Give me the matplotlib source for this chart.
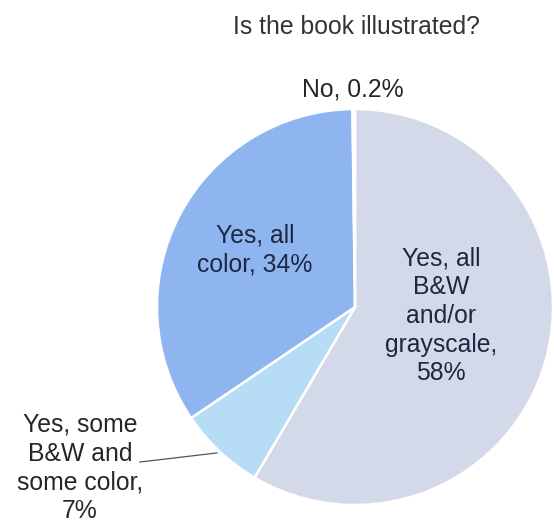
import matplotlib
matplotlib.use("Agg")
import matplotlib.pyplot as plt
import numpy as np

plt.rcParams['font.family'] = ['Liberation Sans', 'DejaVu Sans']

# survey answers, drawn clockwise from 12 o'clock
categories = ['Yes, all\nB&W\nand/or\ngrayscale,', 'Yes, some\nB&W and\nsome color,',
              'Yes, all\ncolor,', 'No,']
shares = [58, 7, 34, 0.2]
share_text = ['58%', '7%', '34%', '0.2%']
colors = ['#d4d9ea', '#b6dcf6', '#8fb5f1', '#8fb5f1']

fig = plt.figure(figsize=(5.54, 5.23), dpi=100)
ax = fig.add_axes([0.2834, 0.0344, 0.7148, 0.7572])

wedges, _ = ax.pie(shares, colors=colors, startangle=90, counterclock=False,
                   radius=1.0, wedgeprops=dict(edgecolor='white', linewidth=1.8))
ax.set_xlim(-1, 1)
ax.set_ylim(-1, 1)
ax.set_aspect('equal')
ax.axis('off')

fs = 17.8
ls = 1.25
inside = '#1d2742'
outside = '#262626'

# labels inside the two big slices
ax.text(0.434, -0.045, categories[0] + '\n' + share_text[0], ha='center', va='center',
        fontsize=fs, color=inside, linespacing=ls)
ax.text(-0.505, 0.288, categories[2] + ' ' + share_text[2],
        ha='center', va='center', fontsize=fs, color=inside, linespacing=ls)

# small slices get outside labels
ax.text(-0.01, 1.096, categories[3] + ' ' + share_text[3], ha='center', va='center',
        fontsize=fs, color=outside, clip_on=False)
ax.text(-1.39, -0.813, categories[1] + '\n' + share_text[1], ha='center', va='center',
        fontsize=fs, color=outside, linespacing=ls, clip_on=False)
ax.plot([-1.086, -0.697], [-0.783, -0.737], color='#555555', linewidth=0.9,
        clip_on=False)

fig.text(0.644, 0.948, 'Is the book illustrated?', ha='center', va='center',
         fontsize=fs, color='#333333')

fig.savefig('out.png', dpi=100, facecolor='white')
